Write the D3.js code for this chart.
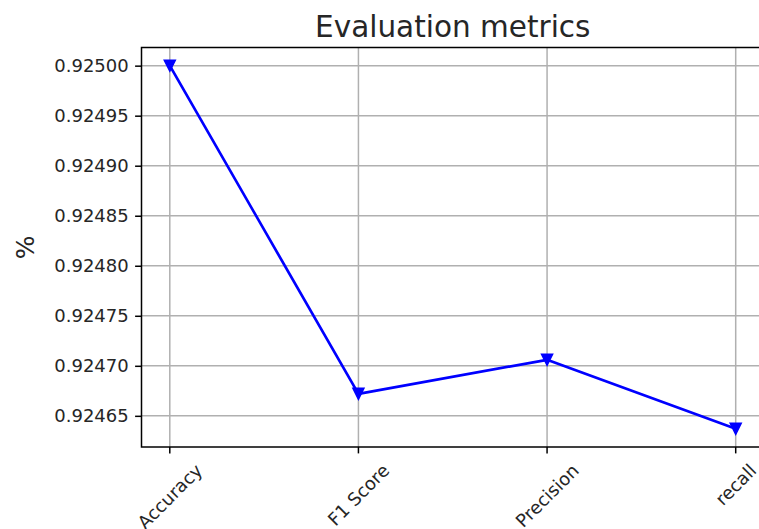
<!DOCTYPE html>
<html>
<head>
<meta charset="utf-8">
<script src="https://cdn.jsdelivr.net/npm/d3@7"></script>
<style>
  body { margin: 0; background: #fff; }
  text { font-family: "DejaVu Sans", sans-serif; fill: #262626; }
</style>
</head>
<body>
<svg class="chart" width="759" height="529"></svg>
<script>
// Data
let metrics = ["Accuracy", "F1 Score", "Precision", "recall"];
let scores = [0.92500, 0.924672, 0.924706, 0.924637];
let yTicks = [0.92465, 0.92470, 0.92475, 0.92480, 0.92485, 0.92490, 0.92495, 0.92500];

let title = "Evaluation metrics";
let yLabel = "%";

var svg = d3.select(".chart");

// axes box, right side runs off the picture like the original
let margin = {left: 141.5, top: 47.5};
let innerWidth = 622.5;
let innerHeight = 399.5;
let tickLen = 6.4, tickPad = 6.4;

// matplotlib style 5% margins
let yMin = d3.min(scores), yMax = d3.max(scores);
let yPad = (yMax - yMin) * 0.05;
let n = metrics.length;

var xScale = d3.scaleLinear()
               .domain([-0.05 * (n - 1), (n - 1) * 1.05])
               .range([0, innerWidth]);

var yScale = d3.scaleLinear()
               .domain([yMin - yPad, yMax + yPad])
               .range([innerHeight, 0]);

let g = svg.append('g')
           .attr('transform', `translate(${margin.left}, ${margin.top})`);

// grid
g.selectAll('.hgrid')
 .data(yTicks)
 .enter()
 .append('line')
 .attr('x1', 0).attr('x2', innerWidth)
 .attr('y1', d => yScale(d)).attr('y2', d => yScale(d))
 .attr('stroke', '#b0b0b0')
 .attr('stroke-width', 1.5);

g.selectAll('.vgrid')
 .data(metrics)
 .enter()
 .append('line')
 .attr('x1', (d, i) => xScale(i)).attr('x2', (d, i) => xScale(i))
 .attr('y1', 0).attr('y2', innerHeight)
 .attr('stroke', '#b0b0b0')
 .attr('stroke-width', 1.5);

// y axis
let yAxis = g.append('g')
  .call(d3.axisLeft(yScale)
          .tickValues(yTicks)
          .tickFormat(d3.format('.5f'))
          .tickSize(tickLen)
          .tickPadding(tickPad));
yAxis.select('.domain').remove();
yAxis.selectAll('line').attr('stroke', '#000').attr('stroke-width', 1.5);
yAxis.selectAll('text')
     .attr('font-size', 18)
     .attr('fill', '#262626')
     .style('font-family', '"DejaVu Sans", sans-serif');

// x ticks
g.selectAll('.xtick')
 .data(metrics)
 .enter()
 .append('line')
 .attr('x1', (d, i) => xScale(i)).attr('x2', (d, i) => xScale(i))
 .attr('y1', innerHeight).attr('y2', innerHeight + tickLen)
 .attr('stroke', '#000')
 .attr('stroke-width', 1.5);

// rotated x labels, box centred under the tick
let xFont = 18;
g.selectAll('.xlabel')
 .data(metrics)
 .enter()
 .append('text')
 .attr('font-size', xFont)
 .attr('text-anchor', 'middle')
 .attr('dominant-baseline', 'central')
 .text(d => d)
 .each(function(d, i) {
    let len = this.getComputedTextLength();
    let boxH = (len + xFont * 1.16) / Math.SQRT2;
    let cx = xScale(i);
    let cy = innerHeight + tickLen + tickPad + boxH / 2;
    d3.select(this).attr('transform', `translate(${cx}, ${cy}) rotate(-45)`);
 });

// spines
g.append('rect')
 .attr('width', innerWidth)
 .attr('height', innerHeight)
 .attr('fill', 'none')
 .attr('stroke', '#000')
 .attr('stroke-width', 1.5);

// line + markers
g.append('path')
 .datum(scores)
 .attr('fill', 'none')
 .attr('stroke', 'blue')
 .attr('stroke-width', 2.7)
 .attr('stroke-linejoin', 'round')
 .attr('d', d3.line()
    .x((d, i) => xScale(i))
    .y(d => yScale(d)));

let m = 5.5;
g.selectAll('.marker')
 .data(scores)
 .enter()
 .append('path')
 .attr('fill', 'blue')
 .attr('stroke', 'blue')
 .attr('stroke-width', 1.5)
 .attr('transform', (d, i) => `translate(${xScale(i)}, ${yScale(d)})`)
 .attr('d', `M${-m},${-m}L${m},${-m}L0,${m}Z`);

// title and y label
svg.append('text')
   .attr('x', margin.left + innerWidth / 2)
   .attr('y', margin.top - 11)
   .attr('text-anchor', 'middle')
   .attr('font-size', 29.5)
   .text(title);

svg.append('text')
   .attr('transform', `translate(34, ${margin.top + innerHeight / 2}) rotate(-90)`)
   .attr('text-anchor', 'middle')
   .attr('font-size', 25)
   .text(yLabel);
</script>
</body>
</html>
